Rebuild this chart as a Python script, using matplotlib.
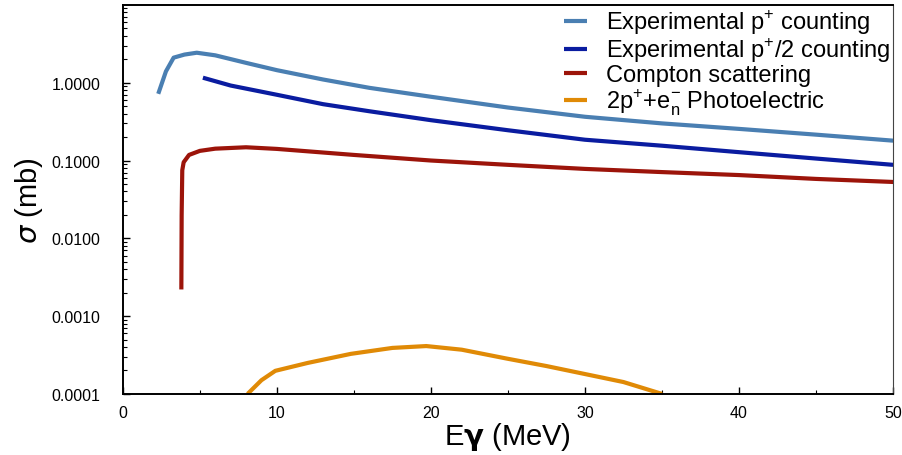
#!/usr/bin/env python3
"""
Cross sections vs photon energy (log scale)
"""

import matplotlib
matplotlib.use('Agg')
import matplotlib.pyplot as plt
from matplotlib.ticker import FixedLocator, FixedFormatter, LogLocator, NullFormatter

# Experimental p+ counting
exp_x = [2.3, 2.8, 3.3, 4.0, 4.8, 6.0, 8.0, 10.0, 13.0, 16.0, 20.0, 25.0, 30.0, 35.0, 40.0, 45.0, 50.0]
exp_y = [0.72, 1.40, 2.10, 2.30, 2.43, 2.25, 1.80, 1.45, 1.10, 0.86, 0.66, 0.48, 0.365, 0.30, 0.255, 0.215, 0.18]

# Experimental p+/2 counting
half_x = [5.2, 7.0, 10.0, 13.0, 16.0, 20.0, 25.0, 30.0, 35.0, 40.0, 45.0, 50.0]
half_y = [1.16, 0.92, 0.70, 0.53, 0.43, 0.33, 0.245, 0.185, 0.155, 0.128, 0.106, 0.088]

# Compton scattering
comp_x = [3.8, 3.82, 3.86, 3.95, 4.3, 5.0, 6.0, 8.0, 10.0, 15.0, 20.0, 25.0, 30.0, 35.0, 40.0, 45.0, 50.0]
comp_y = [0.0022, 0.02, 0.075, 0.095, 0.118, 0.133, 0.142, 0.148, 0.141, 0.118, 0.100, 0.088, 0.078, 0.071, 0.065, 0.058, 0.053]

# 2p+ + e- photoelectric
photo_x = [8.1, 9.0, 9.9, 12.0, 14.8, 17.5, 19.7, 22.0, 24.9, 27.5, 30.0, 32.5, 35.0]
photo_y = [1.0e-4, 1.5e-4, 1.98e-4, 2.5e-4, 3.27e-4, 3.9e-4, 4.12e-4, 3.7e-4, 2.85e-4, 2.28e-4, 1.8e-4, 1.42e-4, 1.0e-4]

labels = ['Experimental p$^{+}$ counting', 'Experimental p$^{+}$/2 counting',
          'Compton scattering', '2p$^{+}$+e$^{-}_{\\mathrm{n}}$ Photoelectric']

yticks = [1e-4, 1e-3, 1e-2, 1e-1, 1.0]
ytick_labels = ['0.0001', '0.0010', '0.0100', '0.1000', '1.0000']

plt.rcParams['font.family'] = ['Liberation Sans', 'DejaVu Sans']
plt.rcParams['mathtext.fontset'] = 'custom'
plt.rcParams['mathtext.rm'] = 'Liberation Sans'

fig = plt.figure(figsize=(9.03, 4.56), dpi=100)
ax = fig.add_axes([0.136, 0.134, 0.853, 0.853])

ax.plot(exp_x, exp_y, color='#4a7fb2', linewidth=3, label=labels[0], solid_capstyle='butt')
ax.plot(half_x, half_y, color='#0a1ca0', linewidth=3, label=labels[1], solid_capstyle='butt')
ax.plot(comp_x, comp_y, color='#9c140a', linewidth=3, label=labels[2], solid_capstyle='butt')
ax.plot(photo_x, photo_y, color='#e08a06', linewidth=3, label=labels[3], solid_capstyle='butt')

ax.set_yscale('log')
ax.set_xlim(0, 50)
ax.set_ylim(1e-4, 10)

ax.yaxis.set_major_locator(FixedLocator(yticks))
ax.yaxis.set_major_formatter(FixedFormatter(ytick_labels))
ax.yaxis.set_minor_locator(LogLocator(base=10, subs=range(2, 10), numticks=20))
ax.yaxis.set_minor_formatter(NullFormatter())
ax.set_xticks([0, 10, 20, 30, 40, 50])
ax.set_xticks([5, 15, 25, 35, 45], minor=True)

ax.tick_params(which='both', direction='in', top=False, right=False, labelsize=11.5)
ax.tick_params(which='major', length=5, width=1)
ax.tick_params(which='minor', length=3, width=0.8)
ax.tick_params(axis='y', pad=16)
ax.tick_params(axis='x', pad=8)

for s in ['left', 'bottom', 'top']:
    ax.spines[s].set_linewidth(1.4)
ax.spines['right'].set_linewidth(0.8)
ax.spines['right'].set_color('#444444')

ax.set_ylabel(r'$\sigma$ (mb)', fontsize=21, labelpad=5)
ax.set_xlabel('E$\\mathbf{\\gamma}$ (MeV)', fontsize=21, labelpad=0)

ax.legend(loc='upper right', frameon=False, fontsize=17, handlelength=1.0,
          handletextpad=0.8, labelspacing=0.0, borderaxespad=0.0,
          borderpad=0.1)

plt.savefig('out.png', dpi=100)
